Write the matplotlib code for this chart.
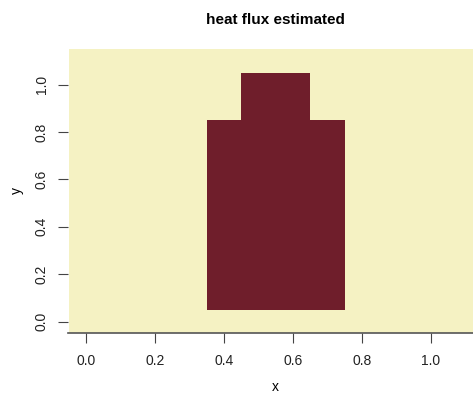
import numpy as np
import matplotlib.pyplot as plt
from matplotlib.colors import ListedColormap

plt.rcParams['font.family'] = ['Liberation Sans', 'DejaVu Sans']

# cell centres of the image grid
x = [0.0, 0.1, 0.2, 0.3, 0.4, 0.5, 0.6, 0.7, 0.8, 0.9, 1.0, 1.1]
y = [0.0, 0.1, 0.2, 0.3, 0.4, 0.5, 0.6, 0.7, 0.8, 0.9, 1.0, 1.1]

# estimated heat flux (rows = y from bottom, cols = x)
z = [
    [0, 0, 0, 0, 0, 0, 0, 0, 0, 0, 0, 0],
    [0, 0, 0, 0, 1, 1, 1, 1, 0, 0, 0, 0],
    [0, 0, 0, 0, 1, 1, 1, 1, 0, 0, 0, 0],
    [0, 0, 0, 0, 1, 1, 1, 1, 0, 0, 0, 0],
    [0, 0, 0, 0, 1, 1, 1, 1, 0, 0, 0, 0],
    [0, 0, 0, 0, 1, 1, 1, 1, 0, 0, 0, 0],
    [0, 0, 0, 0, 1, 1, 1, 1, 0, 0, 0, 0],
    [0, 0, 0, 0, 1, 1, 1, 1, 0, 0, 0, 0],
    [0, 0, 0, 0, 1, 1, 1, 1, 0, 0, 0, 0],
    [0, 0, 0, 0, 0, 1, 1, 0, 0, 0, 0, 0],
    [0, 0, 0, 0, 0, 1, 1, 0, 0, 0, 0, 0],
    [0, 0, 0, 0, 0, 0, 0, 0, 0, 0, 0, 0],
]

xticks = [0.0, 0.2, 0.4, 0.6, 0.8, 1.0]
yticks = [0.0, 0.2, 0.4, 0.6, 0.8, 1.0]

cmap = ListedColormap(['#F5F2C3', '#6F1E2B'])

fig = plt.figure(figsize=(4.73, 3.94), dpi=100)
ax = fig.add_axes([68/473, 61/394, 1 - 68/473, (333-48)/394])

ax.pcolormesh(x, y, np.array(z), cmap=cmap, shading='nearest', vmin=0, vmax=1)

ax.set_xlim(-0.052, 1.122)
ax.set_ylim(-0.048, 1.155)

for s in ['top', 'right', 'left']:
    ax.spines[s].set_visible(False)
ax.spines['bottom'].set_color('#555555')
ax.spines['bottom'].set_linewidth(1.2)

ax.set_xticks(xticks)
ax.set_xticklabels([f'{v:.1f}' for v in xticks])
ax.set_yticks(yticks)
ax.set_yticklabels([f'{v:.1f}' for v in yticks], rotation=90, va='center')
ax.tick_params(axis='both', length=7, width=0.8, color='#444444',
               labelsize=10, labelcolor='#222222')
ax.tick_params(axis='x', pad=8)
ax.tick_params(axis='y', pad=7)

fig.text(275/473, 1 - 387/394, 'x', ha='center', va='center', fontsize=10)
fig.text(17/473, 1 - 190/394, 'y', ha='center', va='center', fontsize=10,
         rotation=90)
fig.text(275/473, 1 - 20/394, 'heat flux estimated', ha='center',
         va='center', fontsize=11, fontweight='bold')

fig.savefig('out.png', dpi=100)
